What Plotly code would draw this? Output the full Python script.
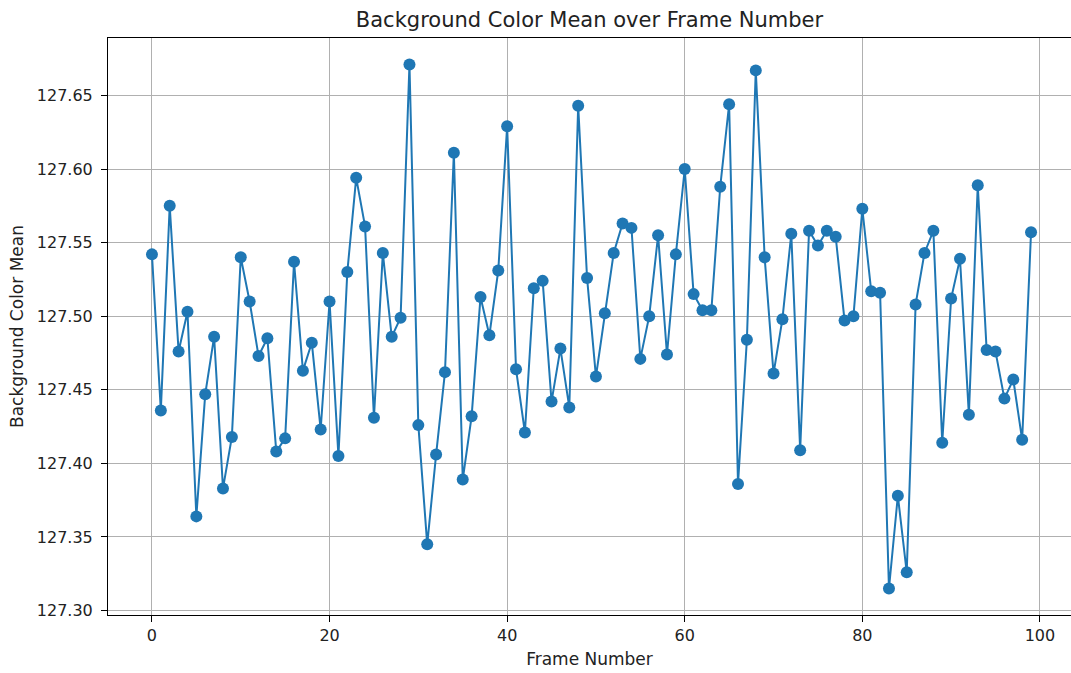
import plotly.graph_objects as go

frames = list(range(100))
bg_mean = [
    127.542, 127.436, 127.575, 127.476, 127.503, 127.364, 127.447, 127.486, 127.383, 127.418,
    127.540, 127.510, 127.473, 127.485, 127.408, 127.417, 127.537, 127.463, 127.482, 127.423,
    127.510, 127.405, 127.530, 127.594, 127.561, 127.431, 127.543, 127.486, 127.499, 127.671,
    127.426, 127.345, 127.406, 127.462, 127.611, 127.389, 127.432, 127.513, 127.487, 127.531,
    127.629, 127.464, 127.421, 127.519, 127.524, 127.442, 127.478, 127.438, 127.643, 127.526,
    127.459, 127.502, 127.543, 127.563, 127.560, 127.471, 127.500, 127.555, 127.474, 127.542,
    127.600, 127.515, 127.504, 127.504, 127.588, 127.644, 127.386, 127.484, 127.667, 127.540,
    127.461, 127.498, 127.556, 127.409, 127.558, 127.548, 127.558, 127.554, 127.497, 127.500,
    127.573, 127.517, 127.516, 127.315, 127.378, 127.326, 127.508, 127.543, 127.558, 127.414,
    127.512, 127.539, 127.433, 127.589, 127.477, 127.476, 127.444, 127.457, 127.416, 127.557,
]
x_ticks = [0, 20, 40, 60, 80, 100]
y_ticks = [127.30, 127.35, 127.40, 127.45, 127.50, 127.55, 127.60, 127.65]

fig = go.Figure()
fig.add_trace(go.Scatter(
    x=frames, y=bg_mean, mode="lines+markers",
    line=dict(color="#1f77b4", width=2),
    marker=dict(color="#1f77b4", size=12),
    showlegend=False,
))

axis_common = dict(
    showgrid=True, gridcolor="#b0b0b0", gridwidth=1,
    showline=True, linecolor="black", linewidth=1, mirror=True,
    ticks="outside", ticklen=6, tickcolor="black",
    zeroline=False,
    tickfont=dict(family="DejaVu Sans", size=16, color="#222"),
)

fig.update_layout(
    width=1071, height=673,
    margin=dict(l=108, r=0, t=38, b=58),
    paper_bgcolor="white", plot_bgcolor="white",
    title=dict(text="Background Color Mean over Frame Number",
               x=0.5, xanchor="center", xref="paper", y=1 - 20 / 673, yanchor="middle",
               font=dict(family="DejaVu Sans", size=21, color="#222")),
    xaxis=dict(range=[-4.95, 103.5], tickvals=x_ticks, ticktext=[str(v) for v in x_ticks],
               title=dict(text="Frame Number", standoff=8,
                          font=dict(family="DejaVu Sans", size=17, color="#222")),
               **axis_common),
    yaxis=dict(range=[127.297, 127.689], tickvals=y_ticks,
               ticktext=[f"{v:.2f}" for v in y_ticks], ticklabelstandoff=5,
               title=dict(text="Background Color Mean", standoff=8,
                          font=dict(family="DejaVu Sans", size=17, color="#222")),
               **axis_common),
)

fig.write_html("out.html")
